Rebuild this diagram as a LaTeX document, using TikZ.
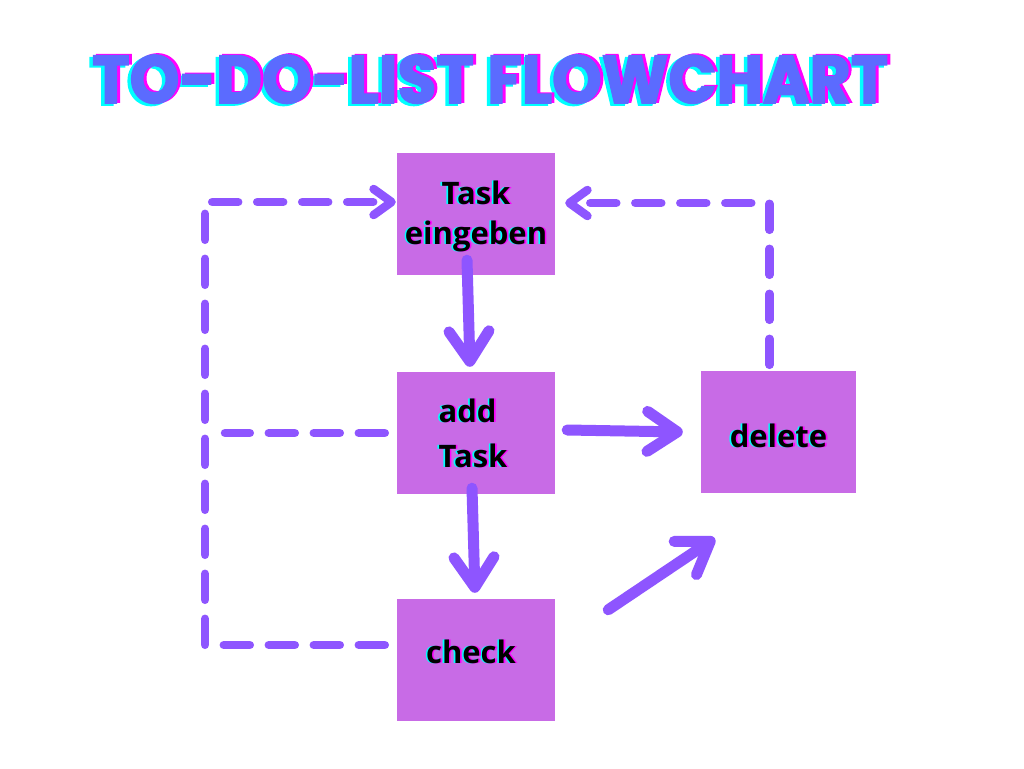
\documentclass[tikz,border=0pt]{standalone}
\usepackage{fontspec}
\setmainfont{Open Sans}
\newfontfamily\titlefont{Poppins}[FakeBold=2.5]
\usetikzlibrary{calc,arrows.meta}
\definecolor{boxfill}{HTML}{C86BE6}
\definecolor{arrowc}{HTML}{8E55FF}
\definecolor{titlec}{HTML}{5B6BFF}
\definecolor{gcyan}{HTML}{00FFFF}
\definecolor{gmag}{HTML}{FF00FF}
\newcommand\glitchtxt[1]{\makebox[0pt][l]{\hspace*{-1.6pt}\textcolor{gcyan}{#1}}\makebox[0pt][l]{\hspace*{1.6pt}\textcolor{gmag}{#1}}#1}
\newcommand\titletxt[1]{\makebox[0pt][l]{\hspace*{-3.5pt}\raisebox{-2pt}{\textcolor{gcyan}{#1}}}\makebox[0pt][l]{\hspace*{3pt}\raisebox{1pt}{\textcolor{gmag}{#1}}}\textcolor{titlec}{#1}}
\tikzset{
  boxnode/.style={rectangle, fill=boxfill, minimum width=158pt, minimum height=122pt, inner sep=0pt,
    font=\fontsize{31}{40}\selectfont\bfseries, text=black},
  solidarr/.style={draw=arrowc, line width=11pt, line cap=round, line join=round,
    -{Straight Barb[length=30pt,width=40pt,round]}},
  dashline/.style={draw=arrowc, line width=8.5pt, line cap=round, line join=round,
    dash pattern=on 26pt off 19pt},
  dasharr/.style={dashline, -{Straight Barb[length=18pt,width=26pt,round]}},
}
\begin{document}
\begin{tikzpicture}[x=1pt,y=-1pt]
\fill[white] (0,0) rectangle (1024,768);
\useasboundingbox (0,0) rectangle (1024,768);

\node[anchor=base west, inner sep=0pt] (title) at (92,103)
  {\titletxt{\resizebox{796pt}{48pt}{\titlefont\bfseries TO-DO-LIST FLOWCHART}}};

\node[boxnode, align=center] (te) at (476,214) {\rule{0pt}{29pt}\glitchtxt{Task}\\\glitchtxt{eingeben}};
\node[boxnode, align=left] (at) at (476,433) {\hspace*{-6pt}\glitchtxt{add}\\[5pt]\hspace*{-6pt}\glitchtxt{Task}};
\node[boxnode] (ch) at (476,660) {\hspace*{-10pt}\raisebox{0pt}[6pt][0pt]{\glitchtxt{check}}};
\node[boxnode, minimum width=155pt] (de) at (778.5,432) {\raisebox{0pt}[30pt][0pt]{\glitchtxt{delete}}};

% dashed loops
\coordinate (lc) at (205,202);
\coordinate (mid) at (225,433);
\draw[dasharr] ($(ch.west)+(-12,-15)$) -| (lc) -- ($(te.west)+(-1,-12)$);
\draw[dashline] ($(at.west)+(-12,0)$) -- (mid);
\draw[dasharr] ($(de.north)+(-9,-6)$) |- ($(te.east)+(10,-11)$);

% solid arrows
\draw[solidarr] ($(te.south)+(-9,-15)$) -- ($(at.north)+(-6,-5)$);
\draw[solidarr] ($(at.south)+(-4,-6)$) -- ($(ch.north)+(-1,-6)$);
\draw[solidarr] ($(at.east)+(12,-3)$) -- ($(de.west)+(-18,0)$);
\draw[solidarr] ($(ch.north east)+(53,11)$) -- ($(de.south west)+(14,45)$);
\end{tikzpicture}
\end{document}
